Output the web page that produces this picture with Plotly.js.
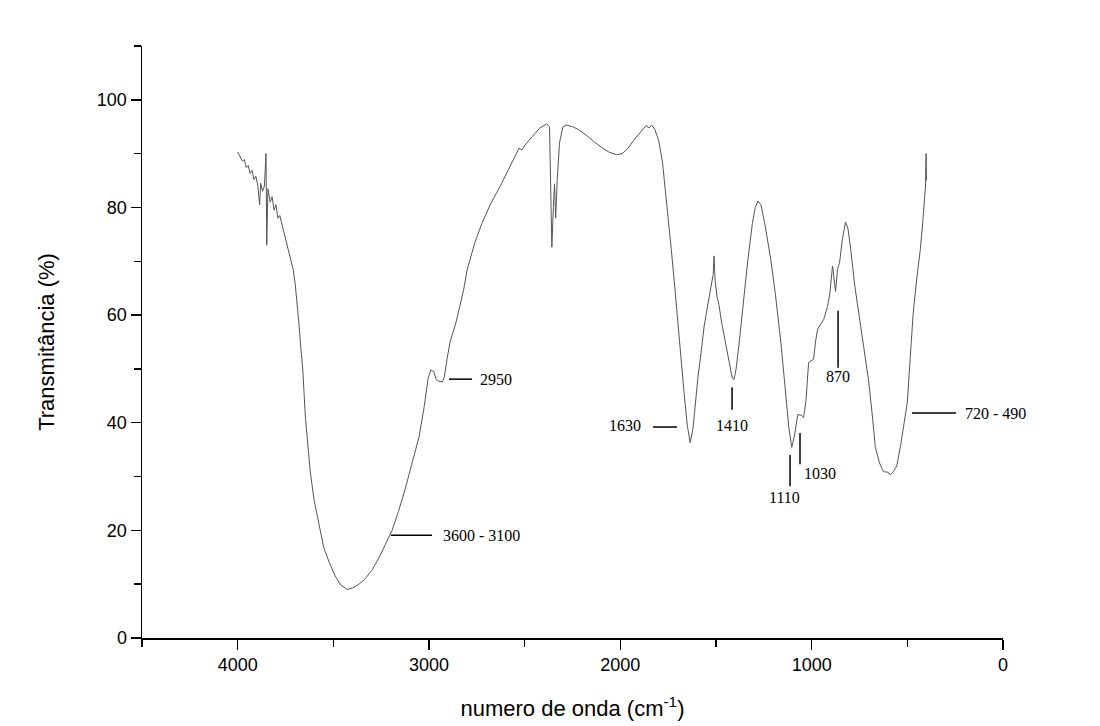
<!DOCTYPE html>
<html>
<head>
<meta charset="utf-8">
<script src="https://cdn.plot.ly/plotly-3.0.1.min.js"></script>
<style>body{margin:0;background:#fff;}#chart{width:1100px;height:726px;}</style>
</head>
<body>
<div id="chart"></div>
<script>
// Wavenumber (cm^-1) and transmittance (%)
const wavenumber = [
4000,3985,3975,3965,3955,3945,3935,3925,3915,3905,3895,3885,3880,3870,3860,3852,3848,3842,3830,3820,
3810,3800,3790,3780,3770,3760,3750,3740,3730,3720,3710,3700,3690,3680,3670,3660,3646,3620,3600,3573,
3550,3521,3490,3460,3427,3400,3370,3339,3300,3260,3225,3193,3160,3125,3090,3052,3025,3005,2990,2975,
2962,2948,2930,2920,2905,2890,2860,2840,2820,2800,2760,2724,2680,2620,2580,2550,2530,2515,2500,2460,
2420,2385,2370,2362,2358,2350,2344,2338,2330,2318,2300,2280,2250,2220,2180,2140,2100,2060,2020,1990,
1960,1930,1900,1880,1865,1850,1835,1820,1800,1780,1760,1734,1715,1698,1683,1667,1650,1635,1620,1605,
1594,1578,1562,1545,1526,1515,1510,1505,1495,1485,1470,1448,1430,1415,1406,1395,1380,1370,1350,1333,
1310,1295,1281,1265,1245,1230,1214,1190,1161,1140,1120,1104,1090,1073,1055,1042,1030,1016,990,980,
969,950,937,917,905,891,880,875,865,854,840,823,810,795,775,755,730,703,685,667,
645,625,600,590,573,555,536,518,500,485,469,450,432,420,410,405,402,400
];
const transmittance = [
90.3,89.2,88.6,88.9,87.4,87.8,86.3,86.9,85.2,85.8,84.1,80.5,84.5,83.0,84.0,90.0,73.0,83.5,81.0,82.0,
79.5,80.5,78.0,78.5,77.0,76.0,74.5,73.0,71.5,70.0,68.5,66.0,62.5,58.5,54.0,50.0,41.0,30.7,25.5,20.7,
16.8,14.0,11.5,9.8,9.0,9.3,9.9,10.8,12.5,15.0,17.5,20.0,23.5,27.6,32.3,37.4,43.0,48.2,49.8,49.5,
48.0,47.7,47.6,48.5,52.0,55.0,58.5,61.5,64.5,68.5,73.5,77.0,80.5,84.5,87.5,89.5,91.0,90.7,91.5,93.2,
94.8,95.5,95.0,80.0,72.6,80.0,84.4,78.0,85.0,92.0,95.0,95.3,95.0,94.5,93.5,92.3,91.2,90.3,89.8,90.0,
91.0,92.5,93.8,94.6,95.2,94.8,95.3,94.5,92.5,88.5,82.0,72.3,65.0,57.9,51.0,45.6,39.5,36.3,39.0,45.0,
48.6,53.0,57.9,61.5,65.4,67.5,71.0,66.5,63.5,62.0,58.5,54.2,51.0,48.3,48.0,50.0,54.5,58.0,64.5,70.4,
77.0,80.0,81.2,80.5,77.0,74.0,70.4,64.0,54.9,47.0,39.3,35.4,37.5,41.5,41.4,41.0,44.0,51.2,51.8,55.0,
57.4,58.5,59.2,61.6,64.0,69.1,66.0,64.4,68.5,69.8,74.0,77.3,76.0,72.0,65.5,60.5,54.5,48.0,42.0,35.4,
32.5,30.9,30.8,30.3,30.9,32.0,35.6,39.5,43.8,52.0,60.5,67.0,72.2,77.0,81.0,84.0,90.0,85.0
];

// Band labels
const bandLabels = ["3600 - 3100","2950","1630","1410","1110","1030","870","720 - 490"];

const xTickVals = [4000,3000,2000,1000,0];
const yTickVals = [0,20,40,60,80,100];

// Callout geometry (data coordinates): leader line and label anchor
const callouts = [
  {line:[3199,19.1,2984,19.1], tx:2937, ty:19.1, xa:"left"},
  {line:[2896,48.1,2775,48.1], tx:2744, ty:48.1, xa:"left"},
  {line:[1829,39.2,1704,39.2], tx:1882, ty:39.4, xa:"right"},
  {line:[1416,46.6,1416,42.4], tx:1416, ty:39.4, xa:"center"},
  {line:[1113,34.0,1113,28.2], tx:1140, ty:26.1, xa:"center"},
  {line:[1061,38.1,1061,32.3], tx:1048, ty:30.6, xa:"left"},
  {line:[862,60.8,862,50.2], tx:862, ty:48.6, xa:"center"},
  {line:[476,41.8,246,41.8], tx:209, ty:41.8, xa:"left"}
];

const shapes = callouts.map(c => ({
  type:"line", xref:"x", yref:"y",
  x0:c.line[0], y0:c.line[1], x1:c.line[2], y1:c.line[3],
  line:{color:"#000", width:1.5}
}));
const annotations = callouts.map((c,i) => ({
  x:c.tx, y:c.ty, xref:"x", yref:"y", text:bandLabels[i], showarrow:false,
  xanchor:c.xa, yanchor:"middle",
  font:{family:"Liberation Serif, Times New Roman, serif", size:16, color:"#000"}
}));

const trace = {
  x: wavenumber, y: transmittance, type:"scatter", mode:"lines",
  line:{color:"#555", width:1}, hoverinfo:"skip"
};

const axisFont = {family:"Liberation Sans, Arial, sans-serif", size:18, color:"#000"};
const layout = {
  width:1100, height:726,
  margin:{l:142, r:97, t:46, b:88},
  paper_bgcolor:"#fff", plot_bgcolor:"#fff",
  showlegend:false,
  xaxis:{
    range:[4500,0], tickvals:xTickVals, ticktext:xTickVals.map(String),
    ticks:"outside", ticklen:10, tickwidth:1.5, tickcolor:"#000",
    minor:{dtick:500, tick0:0, ticks:"outside", ticklen:7, tickwidth:1.5, tickcolor:"#000"},
    showline:true, linecolor:"#000", linewidth:1.5, showgrid:false, zeroline:false,
    tickfont:axisFont,
    title:{text:"numero de onda (cm<sup>-1</sup>)", font:{family:"Liberation Sans, Arial, sans-serif", size:22, color:"#000"}, standoff:26}
  },
  yaxis:{
    range:[0,110], tickvals:yTickVals, ticktext:yTickVals.map(String),
    ticks:"outside", ticklen:10, tickwidth:1.5, tickcolor:"#000",
    minor:{dtick:10, tick0:0, ticks:"outside", ticklen:7, tickwidth:1.5, tickcolor:"#000"},
    showline:true, linecolor:"#000", linewidth:1.5, showgrid:false, zeroline:false,
    tickfont:axisFont,
    title:{text:"Transmitância (%)", font:{family:"Liberation Sans, Arial, sans-serif", size:22, color:"#000"}, standoff:36}
  },
  shapes:shapes,
  annotations:annotations
};

Plotly.newPlot("chart", [trace], layout, {staticPlot:true, displayModeBar:false});
</script>
</body>
</html>
